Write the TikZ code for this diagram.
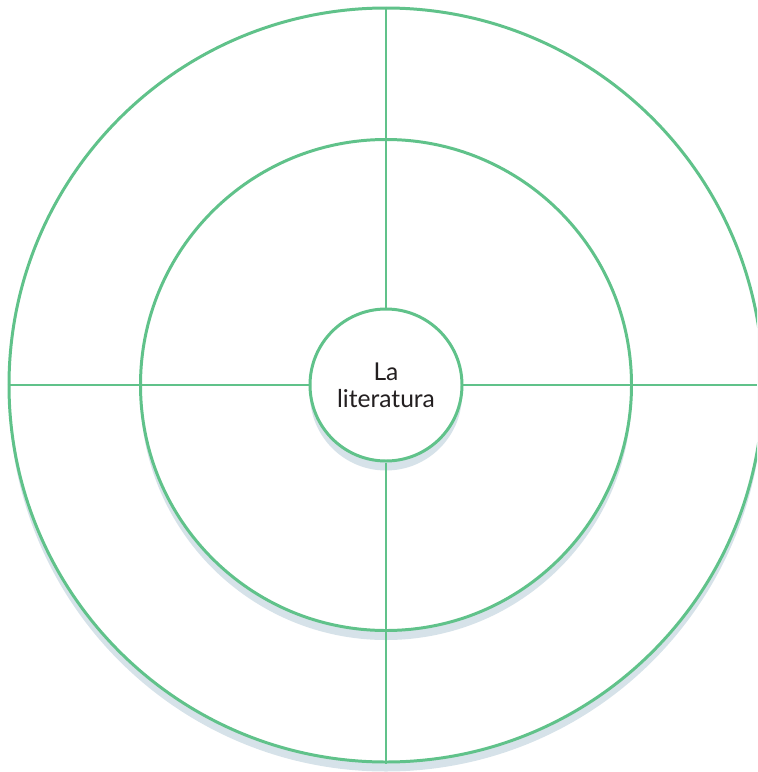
\documentclass[tikz,border=0pt]{standalone}
\usepackage{fontspec}
\setmainfont{Lato}
\usetikzlibrary{shadows}
\definecolor{ringgreen}{RGB}{96,194,138}
\definecolor{shadowgray}{RGB}{214,226,233}
\definecolor{textdark}{RGB}{35,31,32}
\tikzset{
  every picture/.style={line width=1.7pt},
  ring/.style={circle, draw=ringgreen, fill=white, inner sep=0pt,
    general shadow={shadow xshift=0pt, shadow yshift=-0.19cm, fill=shadowgray}},
  spoke/.style={draw=ringgreen},
  hub/.style={ring, minimum size=3.04cm, font=\fontsize{14}{15.5}\selectfont,
    text=textdark, align=center},
}

\begin{document}
\begin{tikzpicture}
\useasboundingbox (0,0) rectangle (15.14,-15.44);
\clip (0,0) rectangle (15.14,-15.44);
\node[ring, minimum size=15.08cm] (outer) at (7.72,-7.70) {};
\node[ring, minimum size=9.82cm] (inner) at (outer.center) {};
\coordinate (edge) at (15.14,-7.70);
\node[hub] (hub) at (outer.center) {La\\literatura};
\draw[spoke] (outer.north) -- (hub.north); \draw[spoke] (hub.south) -- (outer.south);
\draw[spoke] (outer.west) -- (hub.west); \draw[spoke] (hub.east) -- (edge);
\end{tikzpicture}
\end{document}
